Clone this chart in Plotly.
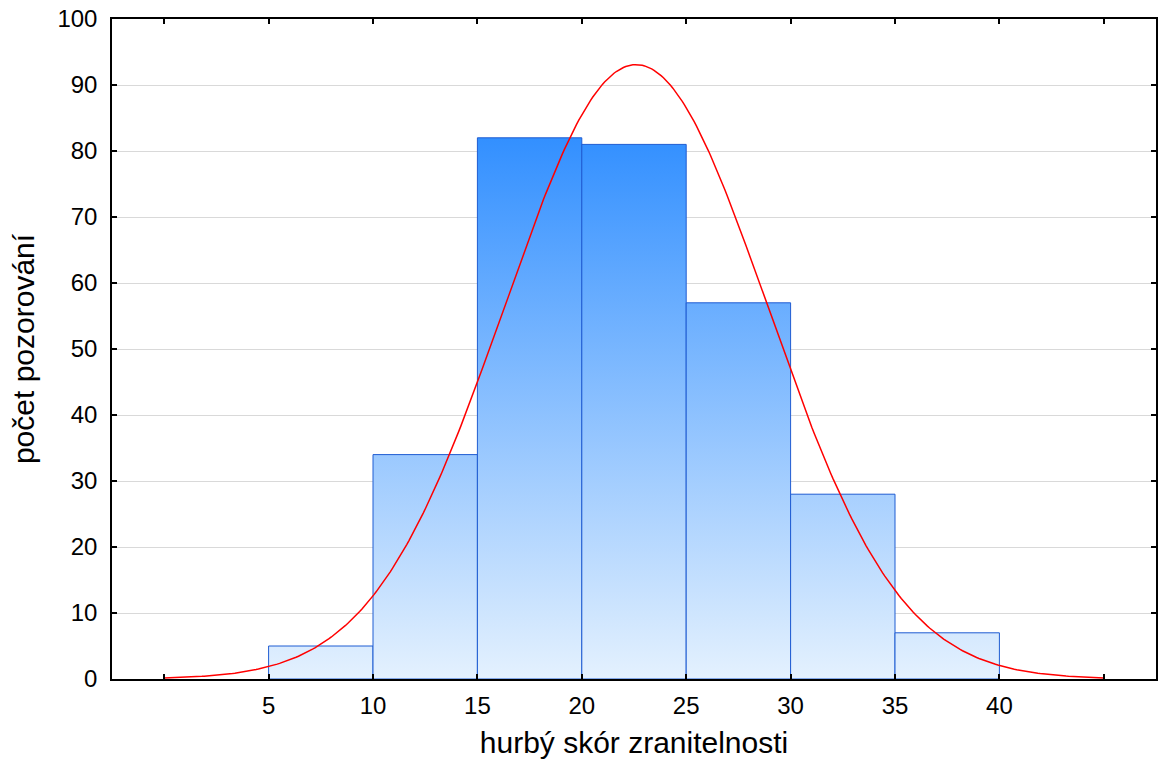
import numpy as np
import plotly.graph_objects as go

# Histogram data
bin_edges = [5, 10, 15, 20, 25, 30, 35, 40]
counts = [5, 34, 82, 81, 57, 28, 7]

# Fitted normal curve parameters
fit_mean = 22.6
fit_sd = 6.3
curve_range = [0, 45]

x_tickvals = [0, 5, 10, 15, 20, 25, 30, 35, 40, 45]
x_ticktext = ["", "5", "10", "15", "20", "25", "30", "35", "40", ""]
y_tickvals = [0, 10, 20, 30, 40, 50, 60, 70, 80, 90, 100]

x_title = "hurbý skór zranitelnosti"
y_title = "počet pozorování"

fig = go.Figure()

for i, c in enumerate(counts):
    x0, x1 = bin_edges[i], bin_edges[i + 1]
    fig.add_trace(go.Scatter(
        x=[x0, x0, x1, x1, x0],
        y=[0, c, c, 0, 0],
        mode="lines",
        fill="toself",
        line=dict(color="#1F5CD2", width=1),
        fillgradient=dict(type="vertical",
                          colorscale=[[0, "#E4F1FE"], [1, "#2C8CFF"]],
                          start=0, stop=85),
        hoverinfo="skip",
        showlegend=False,
    ))

n_total = sum(counts)
bin_w = bin_edges[1] - bin_edges[0]
xc = np.linspace(curve_range[0], curve_range[1], 400)
yc = n_total * bin_w / (fit_sd * np.sqrt(2 * np.pi)) * np.exp(-0.5 * ((xc - fit_mean) / fit_sd) ** 2)
fig.add_trace(go.Scatter(x=xc, y=yc, mode="lines",
                         line=dict(color="#FF0000", width=1.5),
                         showlegend=False, hoverinfo="skip"))

fam = "Liberation Sans, Arial, sans-serif"
tick_font = dict(family=fam, size=24, color="#000000")
title_font = dict(family=fam, size=30, color="#000000")

fig.update_layout(
    width=1163, height=772,
    margin=dict(l=112, r=5, t=19, b=93),
    paper_bgcolor="white", plot_bgcolor="white",
    font=tick_font,
    xaxis=dict(
        range=[-2.5, 47.5], tickvals=x_tickvals, ticktext=x_ticktext,
        ticks="inside", ticklen=5, tickcolor="black", tickwidth=1.5,
        showline=True, linecolor="black", linewidth=1.5, mirror="ticks",
        showgrid=False, zeroline=False,
        tickfont=tick_font, ticklabelstandoff=4, ticklabeloverflow="allow",
        title=dict(text=x_title, font=title_font, standoff=14),
    ),
    yaxis=dict(
        range=[0, 100], tickvals=y_tickvals,
        ticks="inside", ticklen=5, tickcolor="black", tickwidth=1.5,
        showline=True, linecolor="black", linewidth=1.5, mirror="ticks",
        showgrid=True, gridcolor="#D9D9D9", gridwidth=1, zeroline=False,
        tickfont=tick_font, ticklabelstandoff=8, ticklabeloverflow="allow",
        title=dict(text=y_title, font=title_font, standoff=14),
    ),
)

fig.write_html("out.html", config={"displayModeBar": False},
               post_script="document.body.style.margin='0';")
